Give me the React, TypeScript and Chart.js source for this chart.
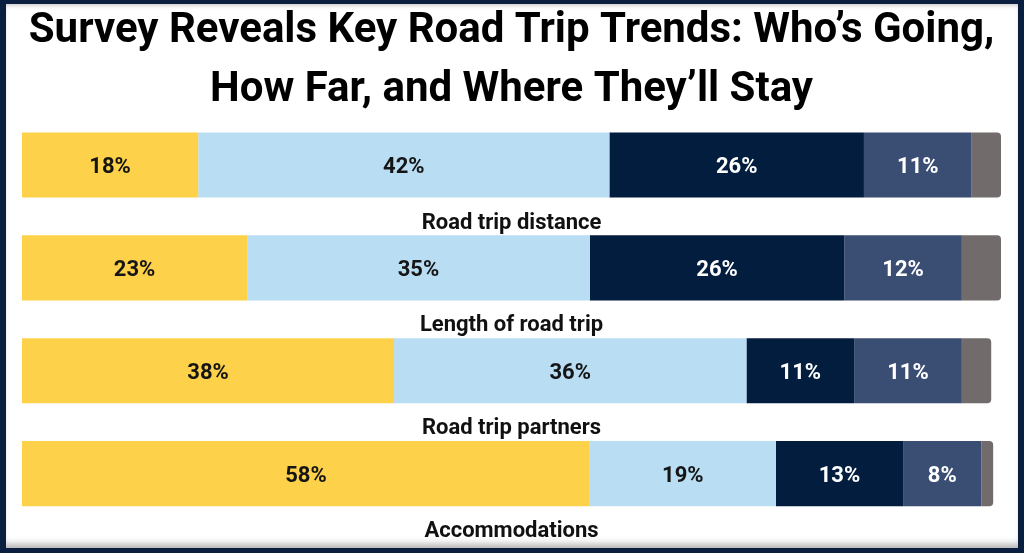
import React, { useEffect, useRef } from 'react';
import { Chart, registerables } from 'chart.js';

Chart.register(...registerables);

const categories = ['Road trip distance', 'Length of road trip', 'Road trip partners', 'Accommodations'];
const seriesYellow = [18, 23, 38, 58];
const seriesLightBlue = [42, 35, 36, 19];
const seriesNavy = [26, 26, 11, 13];
const seriesSlate = [11, 12, 11, 8];
const seriesGrey = [3, 4, 3, 1.2];
const titleLines = ['Survey Reveals Key Road Trip Trends: Who\u2019s Going,', 'How Far, and Where They\u2019ll Stay'];

const colors = ['#FED14A', '#B9DDF3', '#021D3E', '#3A4D72', '#716C6B'];
const labelColors = ['#151515', '#151515', '#ffffff', '#ffffff', null];

// draws the % inside each segment and the category name under each bar
const labelPlugin = {
  id: 'barLabels',
  afterDatasetsDraw(chart: any) {
    const { ctx, chartArea, scales } = chart;
    ctx.save();
    ctx.font = 'bold 22px Roboto';
    ctx.textAlign = 'center';
    ctx.textBaseline = 'alphabetic';
    chart.data.datasets.forEach((ds: any, di: number) => {
      const col = labelColors[di];
      if (!col) return;
      const meta = chart.getDatasetMeta(di);
      meta.data.forEach((bar: any, i: number) => {
        ctx.fillStyle = col;
        ctx.fillText(ds.data[i] + '%', (bar.x + bar.base) / 2, bar.y + 8);
      });
    });
    const meta0 = chart.getDatasetMeta(0);
    ctx.fillStyle = '#111111';
    categories.forEach((c, i) => {
      const bar = meta0.data[i];
      const bottom = scales.y.getPixelForValue(i) + bar.height / 2;
      ctx.fillText(c, (chartArea.left + chartArea.right) / 2, bottom + 31);
    });
    ctx.restore();
  },
};

const App: React.FC = () => {
  const canvasRef = useRef<HTMLCanvasElement>(null);

  useEffect(() => {
    const series = [seriesYellow, seriesLightBlue, seriesNavy, seriesSlate, seriesGrey];
    const chart = new Chart(canvasRef.current as HTMLCanvasElement, {
      type: 'bar',
      data: {
        labels: categories,
        datasets: series.map((d, i) => ({
          label: 'Segment ' + (i + 1),
          data: d,
          backgroundColor: colors[i],
          borderWidth: 0,
          borderRadius: 4,
          barPercentage: 0.633,
          categoryPercentage: 1,
        })),
      },
      options: {
        indexAxis: 'y',
        responsive: false,
        animation: false,
        layout: { padding: { left: 22, right: 23, top: 0, bottom: 28 } },
        scales: {
          x: { stacked: true, min: 0, max: 100, display: false },
          y: { stacked: true, display: false },
        },
        plugins: {
          legend: { display: false },
          tooltip: { enabled: false },
          title: {
            display: true,
            text: titleLines,
            color: '#000000',
            font: { family: 'Roboto', weight: 'bold', size: 42, lineHeight: 1.4 },
            padding: { top: 2.5, bottom: -6.5 },
          },
        },
      },
      plugins: [labelPlugin],
    });
    return () => {
      chart.destroy();
    };
  }, []);

  return (
    <div style={{ position: 'absolute', left: 0, top: 0, width: 1024, height: 553, background: '#0A1F3F', overflow: 'hidden' }}>
      <div
        style={{
          position: 'absolute',
          left: 6,
          top: 4,
          width: 1012,
          height: 544,
          background: '#ffffff',
          boxShadow: 'inset 0 5px 5px -4px rgba(0,0,0,0.25), inset 0 -8px 7px -4px rgba(0,0,0,0.3)',
        }}
      />
      <canvas ref={canvasRef} width={1024} height={553} style={{ position: 'absolute', left: 0, top: 0 }} />
    </div>
  );
};

export default App;
